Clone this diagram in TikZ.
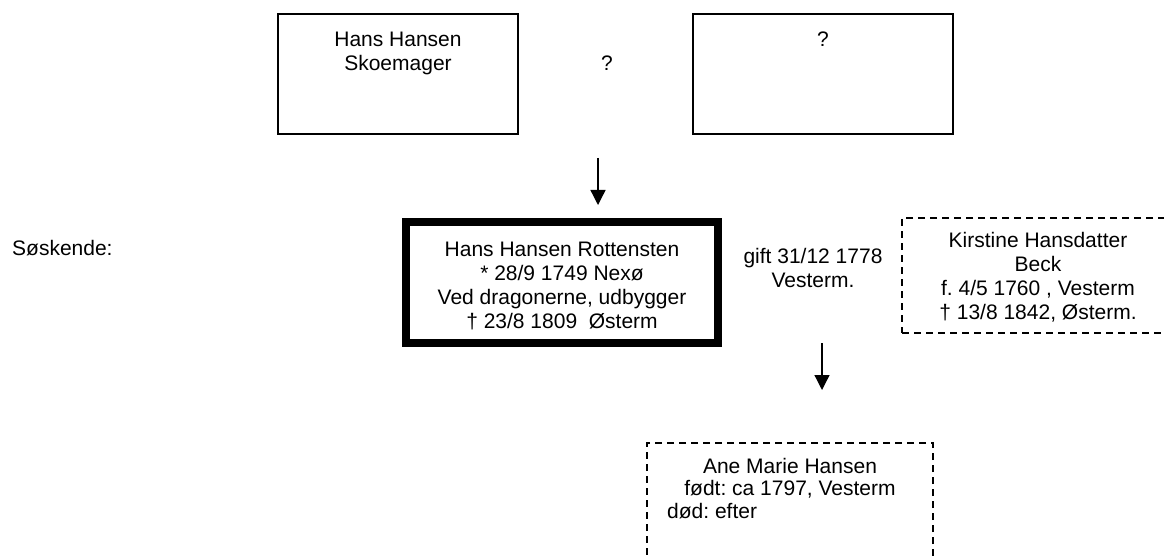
\documentclass[tikz,border=0pt]{standalone}
\usepackage{fontspec}
\setmainfont{Liberation Sans}
\usetikzlibrary{arrows.meta}
\frenchspacing
\begin{document}
\begin{tikzpicture}[x=1pt,y=-1pt,
    every node/.style={font=\fontsize{21}{24}\selectfont,inner sep=0pt},
    parentbox/.style={draw,line width=1.3pt},
    personbox/.style={draw,line width=8pt},
    otherbox/.style={draw,line width=1.5pt,dash pattern=on 7pt off 5pt},
    linetext/.style={align=center,anchor=north},
    pil/.style={line width=1.3pt,-{Triangle[width=15pt,length=15pt]}}]
  \useasboundingbox (0,0) rectangle (1164,556);
  % parents
  \node[parentbox,minimum width=240,minimum height=120] (far) at (398,74) {};
  \node[linetext] (fartxt) at (398,32) {Hans Hansen\\Skoemager};
  \node (ukendt) at (607,63) {?};
  \node[parentbox,minimum width=260,minimum height=120] (mor) at (823,74) {};
  \node[linetext] (mortxt) at (823,32) {?};
  \coordinate (p1a) at (598,158);
  \coordinate (p1b) at (598,205);
  \draw[pil] (p1a) -- (p1b);
  % person and spouse
  \node[anchor=base west] (soskende) at (12,255) {Søskende:};
  \node[personbox,minimum width=312,minimum height=121] (hans) at (562,282.5) {};
  \node[linetext] (hanstxt) at (562,242) {Hans Hansen Rottensten\\* 28/9 1749 Nexø\\Ved dragonerne, udbygger\\† 23/8 1809\ \ Østerm};
  \node[linetext] (gift) at (813,248) {gift 31/12 1778\\Vesterm.};
  \node[otherbox,minimum width=272,minimum height=115] (hustru) at (1038,275.5) {};
  \node[linetext] (hustrutxt) at (1038,232) {Kirstine Hansdatter\\Beck\\f. 4/5 1760 , Vesterm\\† 13/8 1842, Østerm.};
  \coordinate (p2a) at (822,343);
  \coordinate (p2b) at (822,390);
  \draw[pil] (p2a) -- (p2b);
  % child
  \node[otherbox,minimum width=286,minimum height=127] (barn) at (790,506.5) {};
  \node[linetext,font=\fontsize{21}{22.5}\selectfont] (barntxt) at (790,458) {Ane Marie Hansen\\født: ca 1797, Vesterm};
  \node[anchor=base west] (dod) at (667,518) {død: efter};
\end{tikzpicture}
\end{document}
